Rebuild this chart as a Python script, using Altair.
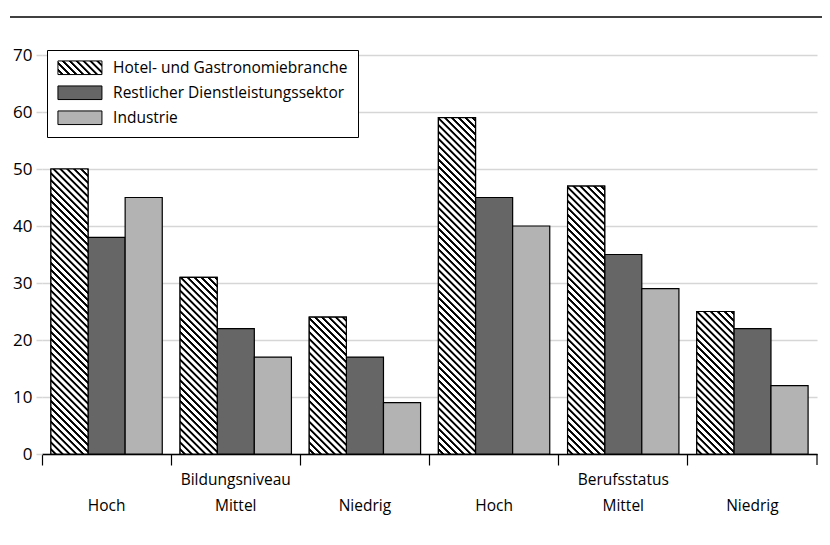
import altair as alt
import pandas as pd

# ---- data ----
groups = ["Bildungsniveau", "Bildungsniveau", "Bildungsniveau",
          "Berufsstatus", "Berufsstatus", "Berufsstatus"]
levels = ["Hoch", "Mittel", "Niedrig", "Hoch", "Mittel", "Niedrig"]
series = ["Hotel- und Gastronomiebranche",
          "Restlicher Dienstleistungssektor",
          "Industrie"]
hotel = [50, 31, 24, 59, 47, 25]
dienst = [38, 22, 17, 45, 35, 22]
industrie = [45, 17, 9, 40, 29, 12]
y_ticks = [0, 10, 20, 30, 40, 50, 60, 70]

combos = [f"{g}|{l}" for g, l in zip(groups, levels)]
rows = []
for s, vals in zip(series, [hotel, dienst, industrie]):
    for c, v in zip(combos, vals):
        rows.append({"combo": c, "series": s, "value": v})
df = pd.DataFrame(rows)

group_names = ["Bildungsniveau", "Berufsstatus"]
glab = pd.DataFrame({"combo": [f"{g}|Mittel" for g in group_names],
                     "label": group_names})

# ---- style ----
W, H = 775, 399
FONT = "Open Sans"
FS = 15.5
DARK = "#666666"
LIGHT = "#b3b3b3"


def stops_js(n):
    parts = []
    prof = [(0.0, "#ffffff"), (0.42, "#ffffff"), (0.55, "#000000"),
            (0.82, "#000000"), (0.95, "#ffffff")]
    for k in range(n):
        for f, col in prof:
            parts.append(f"{{offset:{(k + f) / n:.5f},color:'{col}'}}")
    parts.append("{offset:1,color:'#ffffff'}")
    return "[" + ",".join(parts) + "]"


# hatch for bars: 45-degree stripes, independent of bar aspect ratio
P = 6.9
N = 60
L = N * P
w = "bandwidth('xOffset')"
h = "(scale('y',0)-scale('y',datum.value))"
D = f"({w}*{w}+{h}*{h})"
bar_expr = (f"{{gradient:'linear',x1:0,y1:1,x2:{w}*{L}/{D},"
            f"y2:1-{h}*{L}/{D},stops:{stops_js(N)}}}")

# legend swatch (44 x 13.6 px)
lw, lh = 44.0, 13.6
Nl = 9
Ll = Nl * P
Dl = lw * lw + lh * lh
leg_expr = (f"{{gradient:'linear',x1:0,y1:1,x2:{lw * Ll / Dl:.4f},"
            f"y2:{1 - lh * Ll / Dl:.4f},stops:{stops_js(Nl)}}}")
ar = lw / lh
sym_path = f"M-{ar:.4f},-1H{ar:.4f}V1H-{ar:.4f}Z"
sym_size = lh * lh
sym_offset = lw / 2 - lh / 2
lab_offset = lw - lh + 11 - 16

x_scale = alt.Scale(domain=combos, paddingInner=0, paddingOuter=0)
xo_scale = alt.Scale(domain=series, paddingInner=0, paddingOuter=0.24)

base = alt.Chart(df).mark_bar(stroke="black", strokeWidth=1.2).encode(
    x=alt.X("combo:N", scale=x_scale, title=None,
            axis=alt.Axis(labelExpr="split(datum.label,'|')[1]", labelAngle=0,
                          domainColor="black", domainWidth=1.3,
                          tickColor="black", tickWidth=1.2, tickSize=11,
                          bandPosition=0, labelPadding=33, grid=False,
                          labelFont=FONT, labelFontSize=FS, labelColor="black")),
    xOffset=alt.XOffset("series:N", scale=xo_scale),
    y=alt.Y("value:Q", scale=alt.Scale(domain=[0, 70], nice=False), title=None,
            axis=alt.Axis(values=y_ticks, grid=True, gridColor="#d6d6d6",
                          gridWidth=1.5, domain=False, tickColor="#d6d6d6",
                          tickSize=6, tickWidth=1.5, labelPadding=4,
                          labelFont=FONT, labelFontSize=17, labelColor="black")),
    color=alt.Color("series:N",
                    scale=alt.Scale(domain=series,
                                    range=[{"expr": leg_expr}, DARK, LIGHT]),
                    legend=alt.Legend(title=None, orient="none", legendX=5,
                                      legendY=-5, strokeColor="black",
                                      fillColor="white", padding=10,
                                      cornerRadius=0,
                                      symbolType=sym_path,
                                      symbolSize=sym_size,
                                      symbolOffset=sym_offset,
                                      symbolStrokeColor="black",
                                      symbolStrokeWidth=1,
                                      labelFont=FONT, labelFontSize=FS,
                                      labelColor="black", labelOffset=lab_offset,
                                      rowPadding=6, labelLimit=500,
                                      labelExpr="datum.label + '              '")),
)

hatch = alt.Chart(df).transform_filter(
    alt.datum.series == series[0]
).mark_bar(fill={"expr": bar_expr}, stroke="black", strokeWidth=1.2).encode(
    x=alt.X("combo:N", title=None),
    xOffset=alt.XOffset("series:N"),
    y=alt.Y("value:Q", title=None),
)

gtext = alt.Chart(glab).mark_text(font=FONT, fontSize=FS, color="black",
                                  baseline="middle").encode(
    x=alt.X("combo:N", title=None),
    y=alt.value(H + 26),
    text="label:N",
)

one = pd.DataFrame({"k": [0]})
end_tick = alt.Chart(one).mark_rule(color="black", strokeWidth=1.2).encode(
    x=alt.value(W), y=alt.value(H), y2=alt.value(H + 11))
top_line = alt.Chart(one).mark_rule(color="black", strokeWidth=1.5).encode(
    x=alt.value(-32), x2=alt.value(W + 5), y=alt.value(-38))

chart = alt.layer(base, hatch, gtext, end_tick, top_line).properties(
    width=W, height=H,
    padding={"left": 34, "top": 47, "right": 5, "bottom": 70},
    autosize=alt.AutoSizeParams(type="none"),
).configure_view(stroke=None)

chart.save("out.html", embed_options={"renderer": "svg", "actions": False})
